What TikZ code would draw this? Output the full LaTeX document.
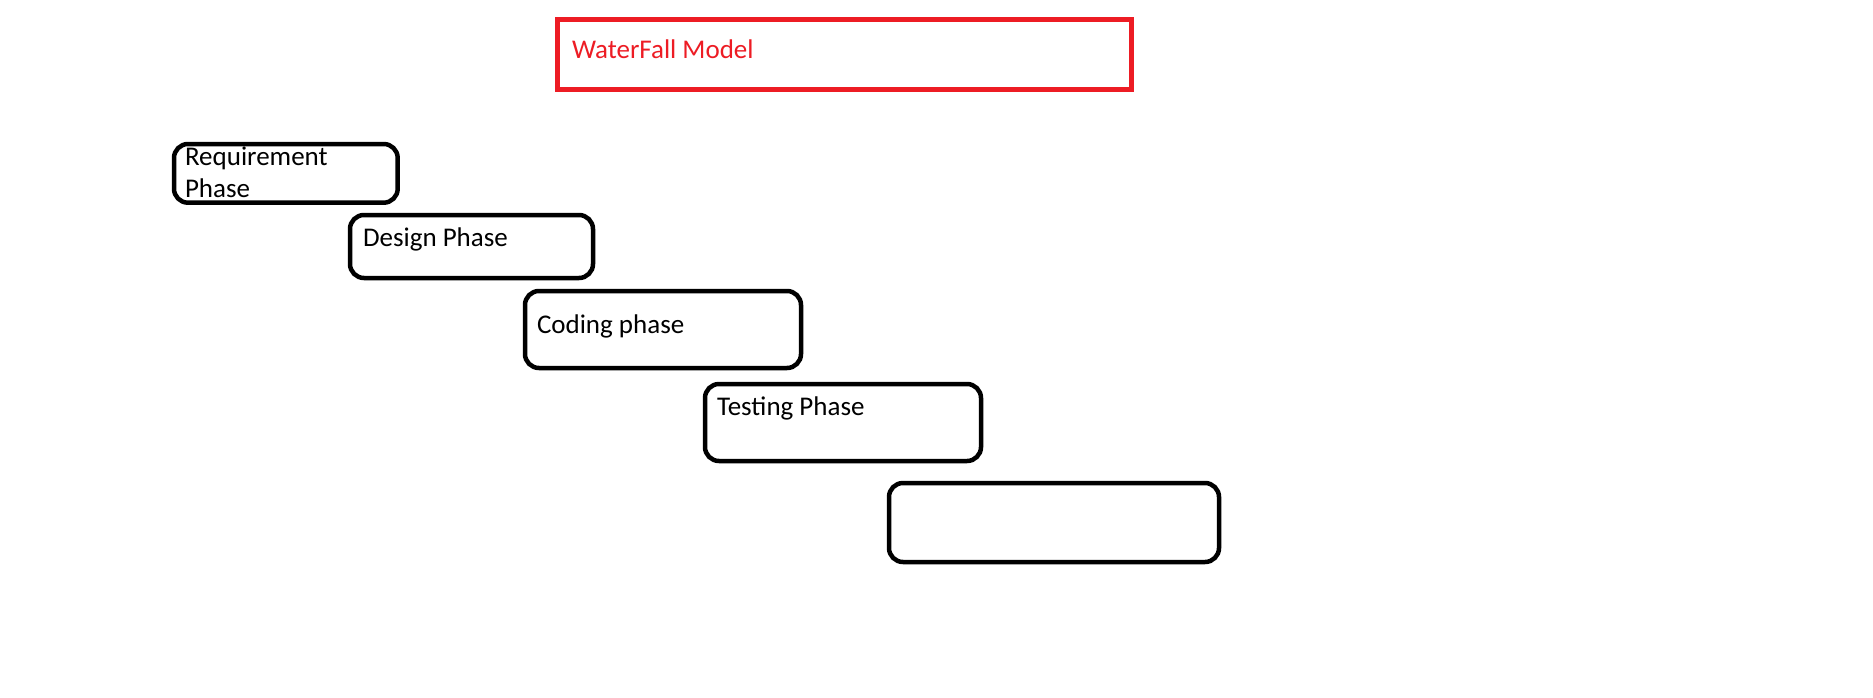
\documentclass[tikz,border=0pt]{standalone}
\usepackage{fontspec}
\setmainfont{Carlito}
\definecolor{paintred}{HTML}{ED1C24}
\tikzset{
  phasebox/.style={draw=black, line width=4.5pt, rounded corners=14pt, rectangle, anchor=north west, inner sep=0pt, outer sep=0pt},
  titlebox/.style={draw=paintred, line width=5pt, rectangle, anchor=north west, inner sep=0pt, outer sep=0pt},
  lbl/.style={anchor=base west, inner sep=0pt, outer sep=0pt, align=left, font=\fontsize{27}{32}\selectfont}
}
\begin{document}
\begin{tikzpicture}[x=1pt,y=-1pt]
\useasboundingbox[fill=white] (0,0) rectangle (1873,697);
\node[titlebox, minimum width=574.5pt, minimum height=70pt] (title) at (557,19.5) {};
\node[phasebox, minimum width=223.7pt, minimum height=58.7pt] (req) at (174,144) {};
\node[phasebox, minimum width=243pt, minimum height=63pt] (des) at (350,215) {};
\node[phasebox, minimum width=276pt, minimum height=77pt] (cod) at (525,291) {};
\node[phasebox, minimum width=276pt, minimum height=77pt] (tes) at (705,384) {};
\node[phasebox, minimum width=330pt, minimum height=79pt] (last) at (889,483) {};
\node[lbl, text=paintred] (titletxt) at (572,58) {WaterFall Model};
\node[lbl] (reqtxt) at (185,197.5) {Requirement\\Phase};
\node[lbl] (destxt) at (363,246) {Design Phase};
\node[lbl] (codtxt) at (537,333) {Coding phase};
\node[lbl] (testxt) at (717,415) {Testing Phase};
\end{tikzpicture}
\end{document}
